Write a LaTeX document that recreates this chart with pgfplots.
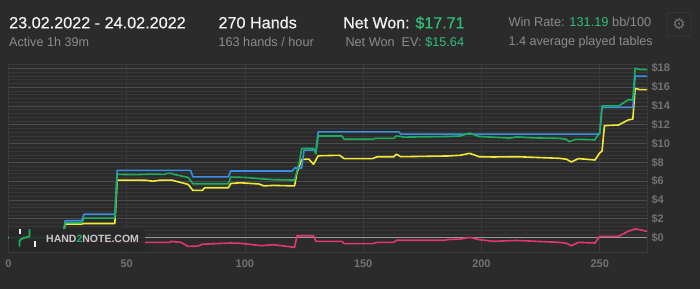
\documentclass[border=0pt]{standalone}
\usepackage{fontspec}
\setmainfont{Liberation Sans}
\newfontfamily\medfont[FakeBold=0.6]{Liberation Sans}
\newfontfamily\dejavu{DejaVu Sans}
\usepackage{pgfplots}
\usepackage{pgfplotstable}
\pgfplotsset{compat=1.18}
\definecolor{bg}{HTML}{2B2B2B}
\definecolor{lblue}{HTML}{3A8EE6}
\definecolor{lgreen}{HTML}{1DAF5E}
\definecolor{lyellow}{HTML}{F2EA36}
\definecolor{lpink}{HTML}{E2376E}
\definecolor{txtgreen}{HTML}{2DBE78}
\definecolor{subgray}{HTML}{8C8C8C}
\definecolor{tickgray}{HTML}{737373}
\definecolor{zerogray}{HTML}{9A9A9A}
\definecolor{majgrid}{HTML}{4C4C4C}
\definecolor{mingrid}{HTML}{383838}
\definecolor{vgrid}{HTML}{3A3A3A}
\definecolor{axisc}{HTML}{393939}
\definecolor{titlec}{HTML}{F2F2F2}
\definecolor{wmtext}{HTML}{C8C8C8}
\newcommand\fs[1]{\fontsize{#1}{#1}\selectfont}

\pgfplotstableread{
x y
0 0
23 0
24 1.8
31 1.8
32 2.5
45 2.5
46 7.15
77 7.15
78 6.45
93 6.45
94 7.08
120 7.08
121 7.4
124 7.4
125 9.3
130 9.3
131 11.24
165 11.24
166 11.0
250 11.0
251 13.84
264 13.84
265 17.15
270 17.15
}\blue

\pgfplotstableread{
x y
0 0
23 0
24 1.57
31 1.57
32 2.07
45 2.07
46 6.72
55 6.70
60 6.75
66 6.72
67 6.83
69 6.83
70 6.72
76 6.40
78 5.73
93 5.73
94 6.44
100 6.40
107 6.25
112 6.16
121 6.12
123 8.0
124 9.47
129 9.47
130 8.9
131 10.8
141 10.8
142 10.45
154 10.45
155 10.55
163 10.55
164 10.8
166 10.75
167 10.68
186 10.75
191 10.8
195 11.1
199 10.75
212 10.58
215 10.7
222 10.6
233 10.55
236 10.45
237 10.2
240 10.45
248 10.4
250 11.2
251 14.0
258 14.0
260 14.3
262 14.65
264 14.65
265 18.0
267 17.86
270 17.86
}\green

\pgfplotstableread{
x y
0 0
23 0
24 1.45
31 1.45
32 1.5
45 1.5
46 6.12
58 6.10
61 6.0
64 6.1
69 6.12
70 6.05
76 5.66
78 5.02
82 5.02
83 5.3
93 5.3
94 5.75
98 5.83
106 5.7
108 5.5
112 5.55
121 5.5
122 6.9
124 8.3
127 8.35
129 7.8
131 8.7
140 8.75
142 8.4
154 8.4
156 8.6
163 8.6
164 8.86
166 8.6
186 8.68
191 8.75
195 8.96
199 8.6
205 8.57
215 8.6
233 8.43
236 8.33
238 8.04
241 8.4
248 8.25
250 9.0
251 9.2
252 11.9
258 11.97
260 12.24
262 12.5
264 12.6
265 15.87
267 15.72
270 15.72
}\yellow

\pgfplotstableread{
x y
0 0
23 0
24 -0.35
45 -0.45
46 -0.5
68 -0.5
69 -0.4
73 -0.5
76 -0.93
80 -0.9
82 -0.7
94 -0.57
98 -0.6
107 -0.85
112 -0.75
121 -1.03
122 0.2
129 0.2
130 -0.39
141 -0.39
142 -0.64
154 -0.64
156 -0.5
163 -0.5
164 -0.28
184 -0.28
186 -0.2
191 -0.15
195 0.03
199 -0.21
205 -0.39
215 -0.3
233 -0.5
236 -0.6
238 -0.85
241 -0.5
248 -0.57
250 0.14
258 0.14
260 0.4
262 0.67
265 0.93
267 0.85
270 0.67
}\pink

\begin{document}
\begin{tikzpicture}
\fill[bg] (0pt,0pt) rectangle (700pt,-289pt);
% header
\node[anchor=base west, inner sep=0, text=titlec, font=\medfont\fs{16.2}] at (9pt,-28.3pt) {23.02.2022 - 24.02.2022};
\node[anchor=base west, inner sep=0, text=subgray, font=\fs{12.6}] at (9pt,-46.7pt) {Active 1h 39m};
\node[anchor=base west, inner sep=0, text=titlec, font=\medfont\fs{16.2}] at (218.3pt,-28.3pt) {270 Hands};
\node[anchor=base west, inner sep=0, text=subgray, font=\fs{12.7}] at (218.3pt,-46.7pt) {163 hands / hour};
\node[anchor=base west, inner sep=0, text=titlec, font=\medfont\fs{16}] at (343pt,-28.3pt) {Net Won: {\color{txtgreen}\$17.71}};
\node[anchor=base east, inner sep=0, text=subgray, font=\fs{12.7}] at (464.3pt,-46.7pt) {Net Won\ \ EV: {\color{txtgreen}\$15.64}};
\node[anchor=base west, inner sep=0, text=subgray, font=\fs{12.8}] at (508.3pt,-26.7pt) {Win Rate: {\color{txtgreen}131.19} bb/100};
\node[anchor=base west, inner sep=0, text=subgray, font=\fs{12.6}] at (508.3pt,-45pt) {1.4 average played tables};
\draw[color=axisc, line width=0.8pt, rounded corners=2pt] (667pt,-12.7pt) rectangle (691pt,-36pt);
\node[inner sep=0, text=tickgray, font=\dejavu\fs{15}] at (679pt,-24.3pt) {⚙};

\begin{axis}[
 at={(8.4pt,-252.7pt)}, anchor=south west, scale only axis,
 width=638.6pt, height=188.7pt,
 xmin=0, xmax=270, ymin=-1.6, ymax=18.45,
 axis line style={draw=axisc, line width=0.5pt},
 tick style={draw=none},
 xtick={0,50,...,250}, ytick={0,2,...,18},
 minor y tick num=4,
 grid=both,
 major x grid style={draw=vgrid, line width=0.6pt},
 major y grid style={draw=majgrid, line width=0.7pt},
 minor y grid style={draw=mingrid, line width=0.5pt},
 yticklabel pos=right,
 yticklabel={\$\pgfmathprintnumber{\tick}},
 ticklabel style={font=\bfseries\fs{11}, text=tickgray},
 /pgf/number format/assume math mode=true,
 xticklabel style={yshift=-3.5pt},
 yticklabel style={xshift=1pt},
]
\addplot[zerogray, line width=0.9pt] coordinates {(0,0) (270,0)};
\addplot[lpink, line width=1.6pt, line join=round] table[x=x,y=y] {\pink};
\addplot[lyellow, line width=1.6pt, line join=round] table[x=x,y=y] {\yellow};
\addplot[lblue, line width=1.6pt, line join=round] table[x=x,y=y] {\blue};
\addplot[lgreen, line width=1.6pt, line join=round] table[x=x,y=y] {\green};
\end{axis}

% watermark
\fill[color=bg!90!black, opacity=0.88] (9.3pt,-229pt) rectangle (145pt,-250.7pt);
\fill[white!85!gray] (18.8pt,-228.5pt) rectangle (20.6pt,-233.5pt);
\fill[white!85!gray] (33.8pt,-241pt) rectangle (35.6pt,-247pt);
\draw[lgreen, line width=1.8pt] (19.5pt,-246.5pt) -- (19.5pt,-241pt) .. controls (21pt,-238pt) and (26pt,-237.5pt) .. (29.5pt,-236.5pt) -- (29.5pt,-229pt);
\node[anchor=base west, inner sep=0, text=wmtext, font=\bfseries\fs{10.5}] at (46pt,-242.7pt) {HAND{\color{lgreen}2}NOTE.COM};
\end{tikzpicture}
\end{document}
